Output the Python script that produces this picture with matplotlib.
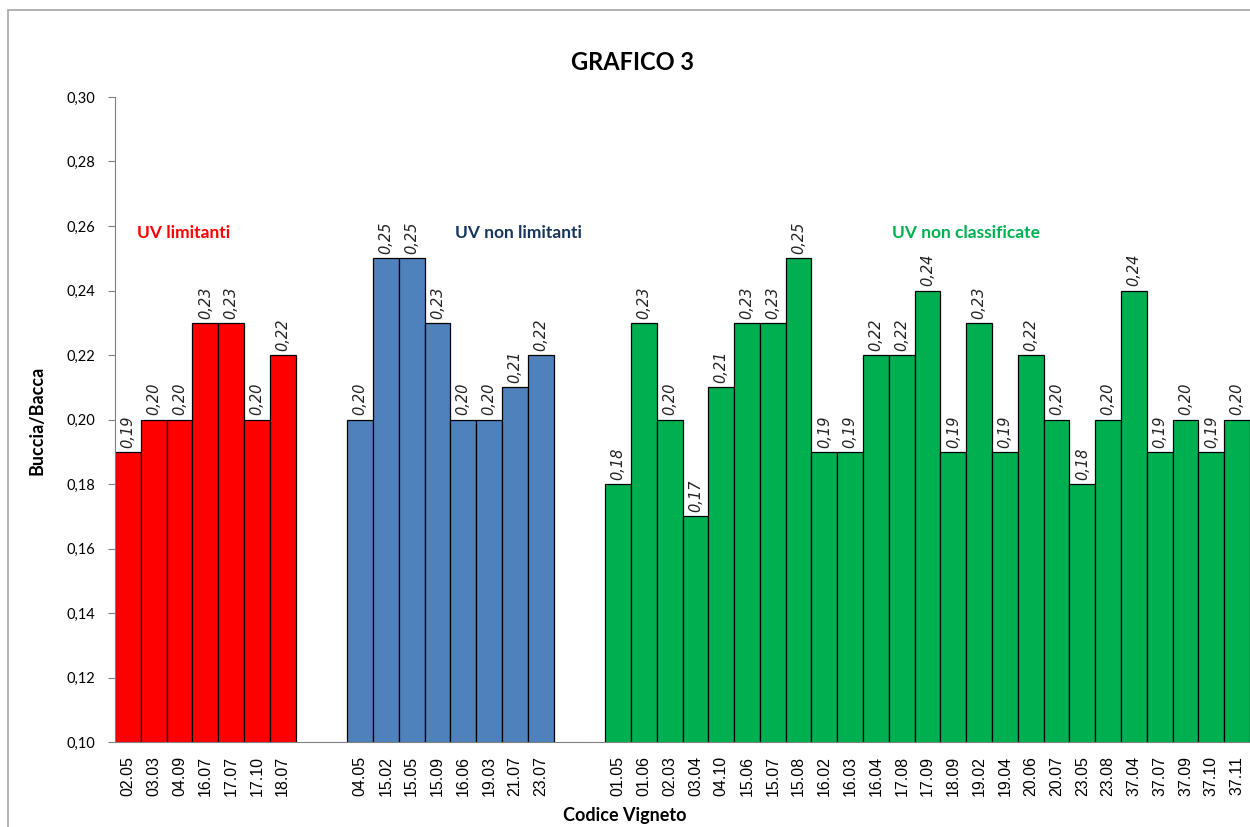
import matplotlib
matplotlib.use("Agg")
import matplotlib.pyplot as plt
from matplotlib.patches import Rectangle

# Data
red_codes = ["02.05", "03.03", "04.09", "16.07", "17.07", "17.10", "18.07"]
red_vals = [0.19, 0.20, 0.20, 0.23, 0.23, 0.20, 0.22]

blue_codes = ["04.05", "15.02", "15.05", "15.09", "16.06", "19.03", "21.07", "23.07"]
blue_vals = [0.20, 0.25, 0.25, 0.23, 0.20, 0.20, 0.21, 0.22]

green_codes = ["01.05", "01.06", "02.03", "03.04", "04.10", "15.06", "15.07", "15.08",
               "16.02", "16.03", "16.04", "17.08", "17.09", "18.09", "19.02", "19.04",
               "20.06", "20.07", "23.05", "23.08", "37.04", "37.07", "37.09", "37.10", "37.11"]
green_vals = [0.18, 0.23, 0.20, 0.17, 0.21, 0.23, 0.23, 0.25,
              0.19, 0.19, 0.22, 0.22, 0.24, 0.19, 0.23, 0.19,
              0.22, 0.20, 0.18, 0.20, 0.24, 0.19, 0.20, 0.19, 0.20]

group_names = ["UV limitanti", "UV non limitanti", "UV non classificate"]
y_ticks = [0.10, 0.12, 0.14, 0.16, 0.18, 0.20, 0.22, 0.24, 0.26, 0.28, 0.30]

RED = "#FF0000"
BLUE = "#4F81BD"
GREEN = "#00B050"
NAVY = "#17365D"

fig = plt.figure(figsize=(12.5, 8.27), dpi=100)
ax = fig.add_axes([115 / 1250, 1 - 742 / 827, 1135 / 1250, (742 - 97) / 827])

# outer frame of the chart area
fig.patches.append(Rectangle((8 / 1250, -0.05), 1.1, 1 - 10 / 827 + 0.05,
                             transform=fig.transFigure, fill=False,
                             edgecolor="#A6A6A6", linewidth=1.2))

gap = 2
groups = [(red_codes, red_vals, RED), (blue_codes, blue_vals, BLUE),
          (green_codes, green_vals, GREEN)]
positions, labels = [], []
start = 0
for codes, vals, col in groups:
    xs = list(range(start, start + len(codes)))
    ax.bar(xs, vals, width=1.0, color=col, edgecolor="black", linewidth=0.9, zorder=2)
    for x, v in zip(xs, vals):
        ax.text(x, v + 0.0013, f"{v:.2f}".replace(".", ","), rotation=90,
                ha="center", va="bottom", fontsize=10.5, style="italic",
                family="DejaVu Sans", color="#222222", zorder=3)
    positions += xs
    labels += codes
    start += len(codes) + gap

ax.set_xlim(-0.5, positions[-1] + 0.5)
ax.set_ylim(0.10, 0.30)
ax.set_yticks(y_ticks)
ax.set_yticklabels([f"{t:.2f}".replace(".", ",") for t in y_ticks],
                   fontsize=10.5, family="Lato")
ax.set_xticks(positions)
ax.set_xticklabels(labels, rotation=90, fontsize=11.5, family="Liberation Sans")
ax.tick_params(axis="x", length=0, pad=10)
ax.tick_params(axis="y", length=5, color="#808080", pad=9)

for s in ["top", "right"]:
    ax.spines[s].set_visible(False)
ax.spines["left"].set_color("#808080")
ax.spines["bottom"].set_color("#808080")

# group captions
ax.text(2.17, 0.2578, group_names[0], color=RED, fontsize=12.5, fontweight="bold",
        family="Lato", ha="center", va="center")
ax.text(15.16, 0.2578, group_names[1], color=NAVY, fontsize=12.5, fontweight="bold",
        family="Lato", ha="center", va="center")
ax.text(32.5, 0.2578, group_names[2], color=GREEN, fontsize=12.5, fontweight="bold",
        family="Lato", ha="center", va="center")

fig.text(632 / 1250, 1 - 62 / 827, "GRAFICO 3", fontsize=17, fontweight="bold",
         family="Lato", ha="center", va="center")
fig.text(37 / 1250, 1 - 420 / 827, "Buccia/Bacca", fontsize=13, fontweight="bold",
         family="Lato", ha="center", va="center", rotation=90)
fig.text(625 / 1250, 1 - 815 / 827, "Codice Vigneto", fontsize=13, fontweight="bold",
         family="Lato", ha="center", va="center")

fig.savefig("out.png", dpi=100, facecolor="white")
